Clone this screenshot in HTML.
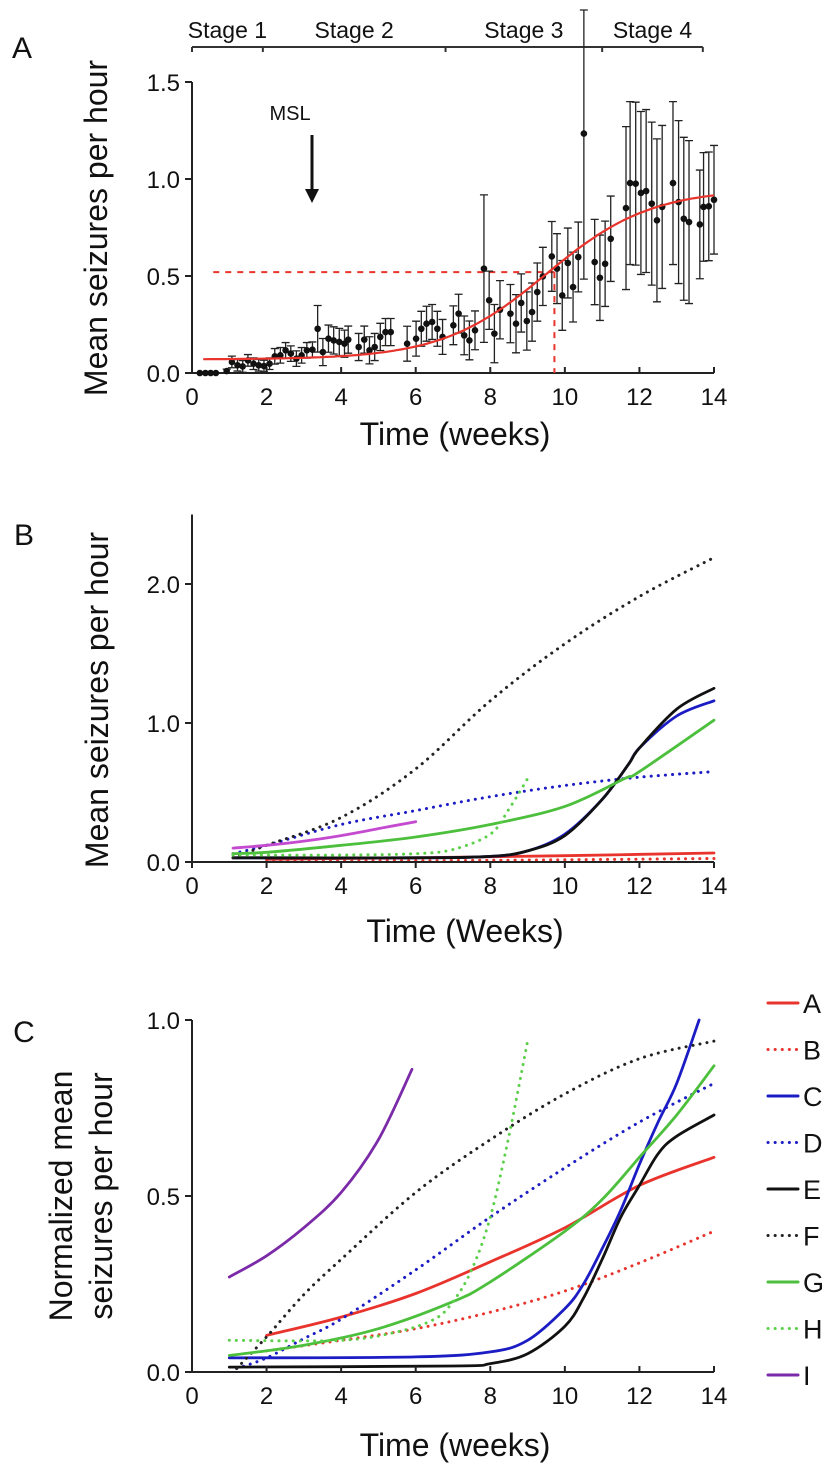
<!DOCTYPE html>
<html><head><meta charset="utf-8"><style>
html,body{margin:0;padding:0;background:#fff;}
svg{display:block;font-family:"Liberation Sans",Arial,sans-serif;}
</style></head><body>
<svg id="fig" width="826" height="1468" viewBox="0 0 826 1468" xmlns="http://www.w3.org/2000/svg"></svg>
<script>
// ---------- Panel A data ----------
const aWeeks=[0.21,0.36,0.50,0.64,0.93,1.07,1.22,1.36,1.50,1.65,1.79,1.93,2.08,2.22,2.37,2.51,2.65,2.80,2.94,3.08,3.23,3.37,3.51,3.66,3.80,3.95,4.09,4.19,4.47,4.62,4.76,4.90,5.05,5.19,5.33,5.77,6.01,6.15,6.29,6.44,6.58,6.72,7.01,7.15,7.30,7.44,7.59,7.83,7.97,8.11,8.26,8.54,8.69,8.83,8.98,9.12,9.26,9.41,9.65,9.79,9.93,10.08,10.22,10.36,10.51,10.80,10.94,11.08,11.23,11.64,11.75,11.90,12.04,12.18,12.33,12.47,12.61,12.90,13.05,13.19,13.33,13.62,13.72,13.86,14.00];
const aMeans=[0,0,0,0,0.01,0.057,0.04,0.034,0.065,0.048,0.04,0.036,0.048,0.086,0.091,0.117,0.10,0.074,0.091,0.117,0.12,0.228,0.108,0.177,0.168,0.16,0.151,0.172,0.134,0.172,0.117,0.134,0.186,0.211,0.211,0.151,0.177,0.228,0.254,0.263,0.228,0.186,0.246,0.306,0.194,0.168,0.22,0.538,0.375,0.203,0.326,0.306,0.254,0.361,0.268,0.314,0.417,0.498,0.601,0.538,0.40,0.567,0.443,0.598,1.234,0.572,0.491,0.563,0.692,0.85,0.979,0.976,0.928,0.938,0.873,0.787,0.856,0.979,0.881,0.795,0.778,0.766,0.856,0.859,0.893];
const aErrors=[0,0,0,0,0.01,0.03,0.03,0.03,0.03,0.03,0.03,0.03,0.03,0.04,0.04,0.04,0.04,0.04,0.04,0.04,0.04,0.12,0.07,0.07,0.07,0.07,0.07,0.07,0.07,0.07,0.07,0.07,0.07,0.07,0.07,0.09,0.09,0.09,0.09,0.09,0.09,0.09,0.1,0.1,0.1,0.1,0.1,0.38,0.15,0.15,0.15,0.15,0.15,0.15,0.15,0.15,0.15,0.15,0.18,0.18,0.18,0.18,0.18,0.18,0.75,0.22,0.22,0.22,0.22,0.42,0.42,0.42,0.42,0.42,0.42,0.42,0.42,0.42,0.42,0.42,0.42,0.28,0.28,0.28,0.28];
const aFitParams=[0.07,0.88,9.5,1.4]; // base, amplitude, midpoint, width
const aHalfMax=[9.72,0.52];
const aStageNames=["Stage 1","Stage 2","Stage 3","Stage 4"];
const aStageBounds=[0,1.9,6.8,11.0,13.7];
const aYTicks=[0,0.5,1.0,1.5];
const aYTickLabels=["0.0","0.5","1.0","1.5"];
const xTicks=[0,2,4,6,8,10,12,14];
// ---------- Panel B data ----------
const bNames=["A","B","C","D","E","F","G","H","I"];
const bSeries={
A:[[2,0.02],[6,0.03],[10,0.045],[14,0.065]],
B:[[2,0.005],[8,0.012],[14,0.025]],
C:[[1.1,0.03],[6,0.03],[8,0.04],[9,0.08],[10,0.2],[11,0.45],[11.7,0.7],[12,0.82],[13,1.05],[14,1.16]],
D:[[1.1,0.06],[2,0.12],[4,0.27],[6,0.37],[8,0.47],[10,0.55],[12,0.61],[14,0.65]],
E:[[1.1,0.03],[6,0.03],[8,0.04],[9,0.08],[10,0.19],[11,0.45],[11.7,0.7],[12,0.82],[13,1.1],[14,1.25]],
F:[[1.1,0.03],[2,0.12],[4,0.32],[6,0.67],[8,1.16],[10,1.57],[12,1.91],[14,2.19]],
G:[[1.1,0.06],[2,0.07],[4,0.12],[6,0.18],[8,0.27],[10,0.4],[11.6,0.6],[12,0.65],[14,1.02]],
H:[[1.1,0.05],[4,0.05],[6,0.06],[7,0.09],[8,0.2],[8.5,0.38],[9,0.6]],
I:[[1.1,0.1],[2,0.12],[3,0.15],[4,0.19],[5,0.24],[6,0.29]]
};
const bYTicks=[0,1,2];
const bYTickLabels=["0.0","1.0","2.0"];
// ---------- Panel C data ----------
const cSeries={
A:[[2,0.104],[4,0.156],[6,0.223],[8,0.313],[10,0.41],[12,0.53],[14,0.61]],
B:[[2,0.06],[4,0.09],[6,0.123],[8,0.17],[10,0.23],[12,0.31],[14,0.40]],
C:[[1,0.04],[6,0.043],[8,0.057],[9,0.09],[10,0.18],[10.5,0.25],[11,0.35],[11.5,0.46],[12,0.59],[12.5,0.71],[13,0.82],[13.6,1.0]],
D:[[1.2,0.01],[2,0.04],[3,0.095],[4,0.15],[6,0.29],[8,0.44],[10,0.58],[12,0.71],[14,0.82]],
E:[[1,0.014],[7,0.017],[8,0.024],[9,0.052],[10,0.13],[10.5,0.21],[11,0.32],[11.5,0.44],[12,0.53],[12.5,0.62],[13,0.67],[14,0.73]],
F:[[1.2,0.01],[2,0.10],[3,0.22],[4,0.32],[6,0.51],[8,0.66],[10,0.79],[12,0.89],[14,0.94]],
G:[[1,0.047],[3,0.076],[5,0.123],[7,0.2],[8,0.256],[10,0.40],[11,0.49],[12,0.61],[13,0.73],[14,0.87]],
H:[[1,0.09],[4,0.09],[5.5,0.114],[6.5,0.15],[7,0.2],[7.5,0.29],[8,0.44],[8.5,0.67],[9,0.94]],
I:[[1,0.27],[2,0.33],[3,0.41],[4,0.51],[5,0.66],[5.9,0.86]]
};
const cYTicks=[0,0.5,1.0];
const cYTickLabels=["0.0","0.5","1.0"];

const bColors={A:"#e8342c",B:"#e8342c",C:"#1c1cc4",D:"#1c1cc4",E:"#111",F:"#222",G:"#4cbf3c",H:"#5cd04a",I:"#c44ad0"};
const cColors={A:"#e8342c",B:"#e8342c",C:"#1c1cc4",D:"#1c1cc4",E:"#111",F:"#222",G:"#4cbf3c",H:"#5cd04a",I:"#7b2aa8"};
const dotted={A:false,B:true,C:false,D:true,E:false,F:true,G:false,H:true,I:false};

const NS="http://www.w3.org/2000/svg";
const svg=document.getElementById('fig');
function mk(tag,attrs,parent){const e=document.createElementNS(NS,tag);for(const k in attrs)e.setAttribute(k,attrs[k]);(parent||svg).appendChild(e);return e;}
function txt(s,x,y,size,anchor,parent){const t=mk('text',{x:x,y:y,'font-size':size,'text-anchor':anchor||'middle',fill:'#111'},parent);t.textContent=s;return t;}

const X0=192,X1=714;
function xs(w){return X0+(X1-X0)*w/14;}
function smoothPath(pts){
  if(pts.length<3)return 'M'+pts.map(p=>p[0].toFixed(1)+','+p[1].toFixed(1)).join(' L');
  let d='M'+pts[0][0].toFixed(1)+','+pts[0][1].toFixed(1);
  for(let i=0;i<pts.length-1;i++){
    const p0=pts[Math.max(0,i-1)],p1=pts[i],p2=pts[i+1],p3=pts[Math.min(pts.length-1,i+2)];
    const c1=[p1[0]+(p2[0]-p0[0])/6,p1[1]+(p2[1]-p0[1])/6];
    const c2=[p2[0]-(p3[0]-p1[0])/6,p2[1]-(p3[1]-p1[1])/6];
    d+=' C'+c1[0].toFixed(1)+','+c1[1].toFixed(1)+' '+c2[0].toFixed(1)+','+c2[1].toFixed(1)+' '+p2[0].toFixed(1)+','+p2[1].toFixed(1);
  }
  return d;
}
function xAxis(g,y0,tickDir){
  const ax=mk('line',{x1:X0,y1:y0,x2:X1,y2:y0,stroke:'#222','stroke-width':2},g);
  
  
  xTicks.forEach(t=>{
    mk('line',{x1:xs(t),y1:y0,x2:xs(t),y2:y0+tickDir*6,stroke:'#222','stroke-width':2},g);
    const l=txt(String(t),xs(t),y0+32,24,'middle',g);
    
    
  });
}
function yAxis(g,ys,ticks,labels,yTop,y0){
  const ax=mk('line',{x1:X0,y1:yTop,x2:X0,y2:y0,stroke:'#222','stroke-width':2},g);
  
  
  ticks.forEach((t,i)=>{
    mk('line',{x1:X0-7,y1:ys(t),x2:X0,y2:ys(t),stroke:'#222','stroke-width':2},g);
    const l=txt(labels[i],X0-12,ys(t)+9,24,'end',g);
    
    
  });
}

// ===== Panel A =====
const gA=mk('g',{});


const A0=373,A15=82;
function ysA(v){return A0-(A0-A15)*v/1.5;}
txt('A',22,58,30,'middle',gA);
// stage bar
const sb=mk('line',{x1:xs(aStageBounds[0]),y1:47,x2:xs(aStageBounds[4]),y2:47,stroke:'#333','stroke-width':2},gA);


aStageBounds.forEach(b=>mk('line',{x1:xs(b),y1:47,x2:xs(b),y2:52,stroke:'#333','stroke-width':2},gA));
aStageNames.forEach((s,i)=>{
  const t=txt(s,(xs(aStageBounds[i])+xs(aStageBounds[i+1]))/2,38,23,'middle',gA);
  
  
});
yAxis(gA,ysA,aYTicks,aYTickLabels,A15,A0);
xAxis(gA,A0,-1);
// MSL
const msl=txt('MSL',290,120,20,'middle',gA);


mk('line',{x1:312,y1:135,x2:312,y2:193,stroke:'#111','stroke-width':3},gA);
mk('polygon',{points:'305,189 319,189 312,203',fill:'#111'},gA);
// half-max dashed lines
const hm1=mk('line',{x1:xs(0.57),y1:ysA(aHalfMax[1]),x2:xs(aHalfMax[0]),y2:ysA(aHalfMax[1]),stroke:'#e8342c','stroke-width':2,'stroke-dasharray':'6 6'},gA);


const hm2=mk('line',{x1:xs(aHalfMax[0]),y1:ysA(aHalfMax[1]),x2:xs(aHalfMax[0]),y2:A0,stroke:'#e8342c','stroke-width':2,'stroke-dasharray':'6 6'},gA);


// error bars and points
aWeeks.forEach((w,i)=>{
  const x=xs(w),m=aMeans[i],e=aErrors[i];
  if(e>0){
    const top=Math.max(ysA(m+e),10),bot=ysA(Math.max(0,m-e));
    const eb=mk('path',{d:`M${x},${top}V${bot}M${x-4},${top}H${x+4}M${x-4},${bot}H${x+4}`,stroke:'#222','stroke-width':1.3,fill:'none'},gA);
    
    
  }
  const c=mk('circle',{cx:x,cy:ysA(m),r:3.3,fill:'#111'},gA);
  
  
});
// fit curve
{
  const pts=[];
  for(let w=0.3;w<=14.001;w+=0.1){const v=aFitParams[0]+aFitParams[1]/(1+Math.exp(-(w-aFitParams[2])/aFitParams[3]));pts.push([xs(w),ysA(v)]);}
  const fc=mk('path',{d:'M'+pts.map(p=>p[0].toFixed(1)+','+p[1].toFixed(1)).join(' L'),stroke:'#e8342c','stroke-width':2.2,fill:'none'},gA);
  
  
}
const axa=txt('Time (weeks)',455,445,32,'middle',gA);


const aya=txt('Mean seizures per hour',0,0,32,'middle',gA);
aya.setAttribute('transform','translate(107,228) rotate(-90)');



function drawSeries(g,series,colors,ysF,nameP){
  bNames.forEach(n=>{
    const pts=series[n].map(p=>[xs(p[0]),ysF(p[1])]);
    const attrs={d:smoothPath(pts),stroke:colors[n],'stroke-width':dotted[n]?3:2.8,fill:'none','stroke-linecap':'round'};
    if(dotted[n])attrs['stroke-dasharray']='0.1 7';
    const p=mk('path',attrs,g);
    
    
  });
}

// ===== Panel B =====
const gB=mk('g',{});


const B0=862,B1=723;
function ysB(v){return B0-(B0-B1)*v;}
txt('B',24,545,30,'middle',gB);
drawSeries(gB,bSeries,bColors,ysB,'panel-b');
yAxis(gB,ysB,bYTicks,bYTickLabels,ysB(2.5),B0);
xAxis(gB,B0,1);
const bxa=txt('Time (Weeks)',465,942,32,'middle',gB);


const bya=txt('Mean seizures per hour',0,0,32,'middle',gB);
bya.setAttribute('transform','translate(108,700) rotate(-90)');



// ===== Panel C =====
const gC=mk('g',{});


const C0=1372,C1=1020;
function ysC(v){return C0-(C0-C1)*v;}
txt('C',24,1042,30,'middle',gC);
drawSeries(gC,cSeries,cColors,ysC,'panel-c');
yAxis(gC,ysC,cYTicks,cYTickLabels,C1,C0);
xAxis(gC,C0,-1);
const cxa=txt('Time (weeks)',455,1456,32,'middle',gC);


const cya1=txt('Normalized mean',0,0,32,'middle',gC);
cya1.setAttribute('transform','translate(72,1196) rotate(-90)');


const cya2=txt('seizures per hour',0,0,32,'middle',gC);
cya2.setAttribute('transform','translate(112,1196) rotate(-90)');


// legend
bNames.forEach((n,i)=>{
  const y=1003+i*46.5;
  const la={x1:768,y1:y,x2:798,y2:y,stroke:cColors[n],'stroke-width':3,'stroke-linecap':'round'};
  if(dotted[n])la['stroke-dasharray']='0.1 7';
  const l=mk('line',la,gC);
  
  
  const t=txt(n,803,y+10,27,'start',gC);
  
  
});
</script>
</body></html>
